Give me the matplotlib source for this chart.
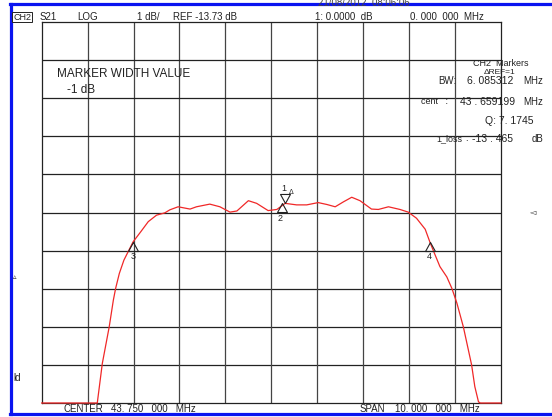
import numpy as np
import matplotlib
matplotlib.use("Agg")
import matplotlib.pyplot as plt
from matplotlib.path import Path
from matplotlib.lines import Line2D

plt.rcParams['font.family'] = ['Liberation Sans Narrow', 'Liberation Sans', 'DejaVu Sans']

# ---- data (MHz, dB) ----
freq_mhz = [38.75, 39.90, 39.96, 40.07, 40.22, 40.31, 40.36, 40.44, 40.54, 40.64,
            40.74, 40.91, 41.07, 41.25, 41.43, 41.54, 41.72, 41.98, 42.12, 42.41,
            42.63, 42.85, 43.00, 43.25, 43.43, 43.68, 43.87, 44.05, 44.30, 44.52,
            44.77, 44.96, 45.14, 45.32, 45.50, 45.68, 45.93, 46.08, 46.30, 46.55,
            46.73, 46.91, 47.10, 47.20, 47.28, 47.42, 47.57, 47.68, 47.79, 47.93,
            48.04, 48.11, 48.18, 48.26, 48.30, 48.75]
s21_db = [-20.0, -19.2, -18.73, -17.69, -16.73, -16.03, -15.72, -15.33, -14.98, -14.74,
          -14.50, -14.23, -13.97, -13.80, -13.74, -13.66, -13.58, -13.64, -13.58, -13.51,
          -13.58, -13.72, -13.69, -13.42, -13.49, -13.68, -13.65, -13.49, -13.53, -13.53,
          -13.47, -13.52, -13.58, -13.45, -13.33, -13.42, -13.64, -13.65, -13.58, -13.65,
          -13.72, -13.88, -14.17, -14.50, -14.74, -15.15, -15.42, -15.72, -16.11, -16.73,
          -17.34, -17.73, -18.30, -18.70, -19.5, -20.0]

center_mhz = 43.75
span_mhz = 10.0
ref_db = -13.73
scale_db = 1.0

marker_ids = ["1", "2", "3", "4"]
marker_freq = [44.05, 43.98, 40.74, 47.20]
marker_db = [-13.49, -13.49, -14.50, -14.50]

header_texts = ["S21", "LOG", "1 dB/", "REF -13.73 dB", "1: 0.0000  dB", "0. 000  000  MHz"]

# ---- figure ----
W, H = 552, 417
fig = plt.figure(figsize=(W / 100, H / 100), dpi=100)
fig.patch.set_facecolor("white")

def fx(px):
    return px / W

def fy(py):
    return 1 - py / H

x0, x1 = 41.7, 501
y0, y1 = 22, 403
ax = fig.add_axes([fx(x0), fy(y1), fx(x1) - fx(x0), fy(y0) - fy(y1)])
xmin, xmax = center_mhz - span_mhz / 2, center_mhz + span_mhz / 2
ymax = ref_db + 5 * scale_db
ymin = ref_db - 5 * scale_db
ax.set_xlim(xmin, xmax)
ax.set_ylim(ymin, ymax)
ax.set_xticks([])
ax.set_yticks([])
for s in ax.spines.values():
    s.set_color("#222222")
    s.set_linewidth(0.9)

for i in range(1, 10):
    ax.axvline(xmin + i * span_mhz / 10, color="#444444", lw=0.9, zorder=1)
    ax.axhline(ymin + i * scale_db, color="#222222", lw=0.9, zorder=1)

trace = np.clip(np.array(s21_db), ymin, ymax)
ax.plot(freq_mhz, trace, color="#f02828", lw=0.9, zorder=3, clip_on=False)

# markers
up_tri = Path([(0, 0), (-0.55, -1), (0.55, -1), (0, 0)],
              [Path.MOVETO, Path.LINETO, Path.LINETO, Path.CLOSEPOLY])
down_tri = Path([(0, 0), (-0.55, 1), (0.55, 1), (0, 0)],
                [Path.MOVETO, Path.LINETO, Path.LINETO, Path.CLOSEPOLY])
mk = dict(ms=13, mfc="none", mec="#222222", mew=0.8, zorder=4)
for mid, mf, md in zip(marker_ids, marker_freq, marker_db):
    if mid == "1":
        ax.plot([mf], [md], marker=down_tri, **mk)
        ax.annotate(mid, (mf, md), xytext=(-1, 11), textcoords="offset points",
                    ha="center", va="center", fontsize=6.5, color="#222222")
        ax.annotate("Δ", (mf, md), xytext=(4, 8), textcoords="offset points",
                    ha="center", va="center", fontsize=5, color="#222222")
    elif mid == "2":
        ax.plot([mf], [md], marker=up_tri, **mk)
        ax.annotate(mid, (mf, md), xytext=(-1, -11), textcoords="offset points",
                    ha="center", va="center", fontsize=6.5, color="#222222")
    else:
        ax.plot([mf], [md], marker=up_tri, **mk)
        ax.annotate(mid, (mf, md), xytext=(0, -10.5), textcoords="offset points",
                    ha="center", va="center", fontsize=6.5, color="#222222")

# ---- blue frame ----
blue = "#0a14f0"
fig.add_artist(Line2D([fx(11), fx(11)], [fy(4), fy(414)], color=blue, lw=2.3))
fig.add_artist(Line2D([fx(10), fx(552)], [fy(4), fy(4)], color=blue, lw=2.3))
fig.add_artist(Line2D([fx(10), fx(552)], [fy(414), fy(414)], color=blue, lw=2.3))

tc = "#222222"
def t(px, py, s, size=7, ha="left", **kw):
    fig.text(fx(px), fy(py), s, fontsize=size, ha=ha, va="center", color=tc, **kw)

# header
t(13, 17, "CH2", 6.5, bbox=dict(boxstyle="square,pad=0.1", fc="white", ec=tc, lw=0.7))
hx = [40, 77, 137, 173, 315, 410]
for x, s in zip(hx, header_texts):
    t(x, 17, s, 7)
fig.text(fx(318), fy(3), "21/08/2012  08:06:06", fontsize=7, ha="left", va="center", color="#444444")

# footer
t(64, 409, "CENTER", 7)
t(111, 409, "43. 750   000   MHz", 7)
t(360, 409, "SPAN", 7)
t(395, 409, "10. 000   000   MHz", 7)

# annotation block
t(57, 74, "MARKER WIDTH VALUE", 8.5)
t(67, 90, "-1 dB", 8.5)

# marker table
t(473, 64, "CH2  Markers", 6.5)
t(484, 72, "ΔREF=1", 6)
t(438, 81, "BW:", 7)
t(467, 81, "6. 085312", 7.5)
t(523, 81, "MHz", 7)
t(421, 102, "cent   :", 6.5)
t(460, 102, "43 . 659199", 7.5)
t(523, 102, "MHz", 7)
t(485, 121, "Q: 7. 1745", 7.5)
t(436, 139, "1_loss", 6.5)
t(465, 139, ":", 6.5)
t(472, 139, "-13 . 465", 7.5)
t(532, 139, "dB", 7)

# side glyphs
t(529, 212, "◅", 6, family=["DejaVu Sans"])
t(13, 277, "▵", 5, family=["DejaVu Sans"])
t(13, 378, "ld", 7)

fig.savefig("out.png", dpi=100)
